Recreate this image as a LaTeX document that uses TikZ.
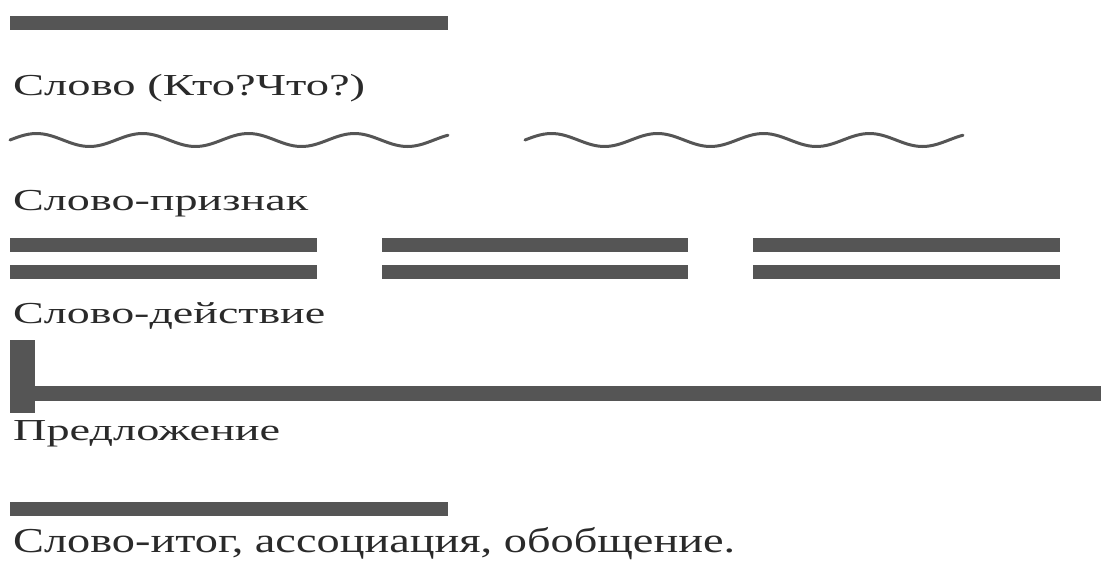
\documentclass[tikz,border=0pt]{standalone}
\usepackage{fontspec}
\setmainfont{Liberation Serif}
\definecolor{barc}{HTML}{555555}
\definecolor{txtc}{HTML}{2A2A2A}
\newcommand{\fitw}[3]{\resizebox{#1}{\height}{\fontsize{#2}{#2}\selectfont #3}}
\begin{document}
\begin{tikzpicture}[x=1pt,y=-1pt,
  bar/.style={fill=barc},
  lbl/.style={anchor=base west, inner sep=0pt, text=txtc},
  wave/.style={draw=barc, line width=3pt, line cap=round}]
\useasboundingbox (0,0) rectangle (1101,560);
% top bar
\fill[bar] (10,16) rectangle (448,30);
\node[lbl] (t1) at (13,95) {\fitw{352pt}{30.5pt}{Слово (Кто?Что?)}};
% waves
\draw[wave] plot[domain=10:448, samples=120, smooth] (\x, {140 - 6.5*sin(3.3962*(\x-10))});
\draw[wave] plot[domain=525:963, samples=120, smooth] (\x, {140 - 6.5*sin(3.3962*(\x-525))});
\node[lbl] (t2) at (13,210) {\fitw{295pt}{30.5pt}{Слово-признак}};
% double bars
\foreach \a/\b in {10/317, 382/688, 753/1060}{
  \fill[bar] (\a,238) rectangle (\b,252);
  \fill[bar] (\a,265) rectangle (\b,279);
}
\node[lbl] (t3) at (13,323) {\fitw{312pt}{30.5pt}{Слово-действие}};
% sentence
\fill[bar] (10,340) rectangle (35,413);
\fill[bar] (35,386) rectangle (1101,401);
\node[lbl] (t4) at (13,440) {\fitw{267pt}{30.5pt}{Предложение}};
% bottom bar
\fill[bar] (10,502) rectangle (448,516);
\node[lbl] (t5) at (13,552) {\fitw{722pt}{35pt}{Слово-итог, ассоциация, обобщение.}};
\end{tikzpicture}
\end{document}
